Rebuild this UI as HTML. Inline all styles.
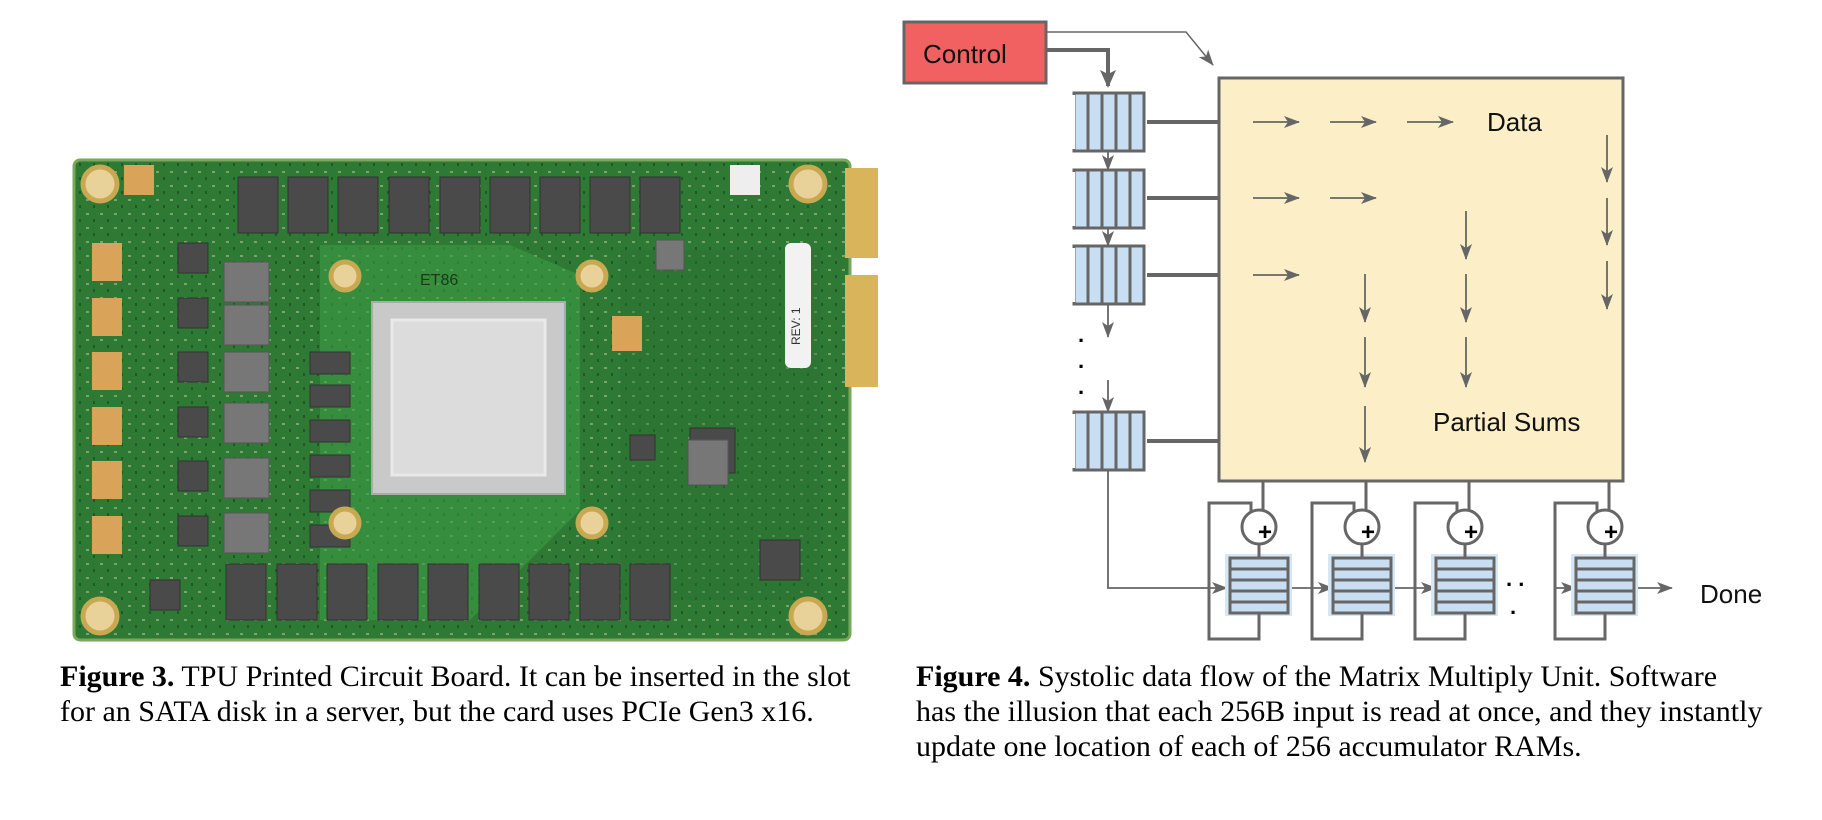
<!DOCTYPE html>
<html><head><meta charset="utf-8"><style>
body{margin:0;width:1822px;height:820px;background:#fff;overflow:hidden;position:relative}
.cap{position:absolute;font-family:"Liberation Serif",serif;font-size:30px;line-height:35px;color:#000;white-space:nowrap}
</style></head><body>
<svg width="1822" height="820" style="position:absolute;left:0;top:0" font-family="Liberation Sans, sans-serif">
<defs>
<marker id="a" markerWidth="16" markerHeight="12" refX="15" refY="6" orient="auto" markerUnits="userSpaceOnUse"><path d="M0,0 L16,6 L0,12 L4,6 z" fill="#666"/></marker>
<marker id="b" markerWidth="18" markerHeight="16" refX="16" refY="8" orient="auto" markerUnits="userSpaceOnUse"><path d="M0,0 L18,8 L0,16 L4,8 z" fill="#666"/></marker>
<pattern id="pcb" width="14" height="14" patternUnits="userSpaceOnUse"><rect width="14" height="14" fill="#2e7a35"/><rect x="2" y="3" width="3" height="2" fill="#c9c9b0" opacity=".5"/><rect x="9" y="9" width="2" height="3" fill="#1d5a26"/></pattern>
</defs>
<!-- PCB -->
<rect x="74" y="160" width="776" height="480" rx="6" fill="url(#pcb)" stroke="#7aa85a" stroke-width="3"/>
<rect x="845" y="168" width="33" height="90" fill="#d8b55a"/>
<rect x="845" y="275" width="33" height="112" fill="#d8b55a"/>
<path d="M620 250 L820 250 L820 600 L620 600Z" fill="#2a6f30" opacity=".4"/>
<path d="M320 245 L510 245 L580 275 L580 510 L470 620 L320 620Z" fill="#3a9a42" opacity=".6"/>
<g fill="#4a4a4a" stroke="#333">
<rect x="238" y="177" width="40" height="56"/><rect x="288" y="177" width="40" height="56"/><rect x="338" y="177" width="40" height="56"/><rect x="389" y="177" width="40" height="56"/><rect x="440" y="177" width="40" height="56"/><rect x="490" y="177" width="40" height="56"/><rect x="540" y="177" width="40" height="56"/><rect x="590" y="177" width="40" height="56"/><rect x="640" y="177" width="40" height="56"/>
<rect x="226" y="564" width="40" height="56"/><rect x="277" y="564" width="40" height="56"/><rect x="327" y="564" width="40" height="56"/><rect x="378" y="564" width="40" height="56"/><rect x="428" y="564" width="40" height="56"/><rect x="479" y="564" width="40" height="56"/><rect x="529" y="564" width="40" height="56"/><rect x="580" y="564" width="40" height="56"/><rect x="630" y="564" width="40" height="56"/>
<rect x="178" y="243" width="30" height="30"/><rect x="178" y="298" width="30" height="30"/><rect x="178" y="352" width="30" height="30"/><rect x="178" y="407" width="30" height="30"/><rect x="178" y="461" width="30" height="30"/><rect x="178" y="516" width="30" height="30"/>
<rect x="310" y="352" width="40" height="22"/><rect x="310" y="385" width="40" height="22"/><rect x="310" y="420" width="40" height="22"/><rect x="310" y="455" width="40" height="22"/><rect x="310" y="490" width="40" height="22"/><rect x="310" y="525" width="40" height="22"/>
<rect x="690" y="428" width="45" height="45"/><rect x="760" y="540" width="40" height="40"/><rect x="630" y="435" width="25" height="25"/><rect x="150" y="580" width="30" height="30"/>
</g>
<g fill="#777" stroke="#555">
<rect x="224" y="262" width="45" height="40"/><rect x="224" y="305" width="45" height="40"/><rect x="224" y="352" width="45" height="40"/><rect x="224" y="403" width="45" height="40"/><rect x="224" y="458" width="45" height="40"/><rect x="224" y="513" width="45" height="40"/><rect x="688" y="440" width="40" height="45"/><rect x="656" y="240" width="28" height="30"/>
</g>
<g fill="#d9a45a"><rect x="124" y="165" width="30" height="30"/><rect x="92" y="243" width="30" height="38"/><rect x="92" y="298" width="30" height="38"/><rect x="92" y="352" width="30" height="38"/><rect x="92" y="407" width="30" height="38"/><rect x="92" y="461" width="30" height="38"/><rect x="92" y="516" width="30" height="38"/><rect x="612" y="316" width="30" height="35"/></g>
<g fill="#e8d29a" stroke="#c8a850" stroke-width="5"><circle cx="100" cy="184" r="17"/><circle cx="808" cy="184" r="17"/><circle cx="100" cy="616" r="17"/><circle cx="808" cy="616" r="17"/><circle cx="345" cy="276" r="14"/><circle cx="592" cy="276" r="14"/><circle cx="345" cy="523" r="14"/><circle cx="592" cy="523" r="14"/></g>
<rect x="372" y="302" width="193" height="192" fill="#c9c9c9" stroke="#aaa" stroke-width="2"/>
<rect x="392" y="320" width="153" height="155" fill="#dcdcdc" stroke="#e9e9e9" stroke-width="3"/>
<rect x="785" y="243" width="26" height="125" rx="6" fill="#f2f2f2"/>
<text x="800" y="345" font-size="12" fill="#333" transform="rotate(-90 800 345)">REV: 1</text>
<text x="420" y="285" font-size="16" fill="#1a3a1a">ET86</text>
<rect x="730" y="165" width="30" height="30" fill="#eee"/>
<!-- Figure 4 -->
<rect x="904" y="22" width="142" height="61" fill="#f26161" stroke="#666" stroke-width="3"/>
<text x="923" y="63" font-size="26" fill="#111">Control</text>
<polyline points="1046,50 1108,50 1108,86" fill="none" stroke="#666" stroke-width="4" marker-end="url(#b)"/>
<polyline points="1046,32 1186,32 1213,65" fill="none" stroke="#666" stroke-width="1.5" marker-end="url(#a)"/>
<rect x="1219" y="78" width="404" height="403" fill="#fcefc8" stroke="#666" stroke-width="3"/>
<g fill="#c8def2" stroke="#666" stroke-width="3">
<g id="q"><rect x="1074" y="93" width="70" height="58"/><path d="M1088 93V151M1102 93V151M1116 93V151M1130 93V151" /></g>
<use href="#q" y="77"/><use href="#q" y="153"/><use href="#q" y="319"/>
</g>
<g fill="#fff"><rect x="1069" y="95" width="6" height="54"/><rect x="1069" y="172" width="6" height="54"/><rect x="1069" y="248" width="6" height="54"/><rect x="1069" y="414" width="6" height="54"/></g>
<g stroke="#666" stroke-width="4"><line x1="1147" y1="122" x2="1219" y2="122"/><line x1="1147" y1="198" x2="1219" y2="198"/><line x1="1147" y1="275" x2="1219" y2="275"/><line x1="1147" y1="441" x2="1219" y2="441"/></g>
<g stroke="#666" stroke-width="1.8" fill="none" marker-end="url(#a)">
<line x1="1108" y1="151" x2="1108" y2="170"/><line x1="1108" y1="228" x2="1108" y2="246"/><line x1="1108" y1="304" x2="1108" y2="337"/><line x1="1108" y1="380" x2="1108" y2="412"/>
<polyline points="1108,471 1108,588 1227,588"/>
<line x1="1253" y1="122" x2="1299" y2="122"/><line x1="1330" y1="122" x2="1376" y2="122"/><line x1="1407" y1="122" x2="1453" y2="122"/>
<line x1="1253" y1="198" x2="1299" y2="198"/><line x1="1330" y1="198" x2="1376" y2="198"/>
<line x1="1253" y1="275" x2="1299" y2="275"/>
<line x1="1607" y1="135" x2="1607" y2="182"/><line x1="1607" y1="198" x2="1607" y2="245"/><line x1="1607" y1="261" x2="1607" y2="309"/>
<line x1="1466" y1="211" x2="1466" y2="259"/><line x1="1466" y1="274" x2="1466" y2="322"/><line x1="1466" y1="337" x2="1466" y2="387"/>
<line x1="1365" y1="274" x2="1365" y2="322"/><line x1="1365" y1="337" x2="1365" y2="387"/><line x1="1365" y1="406" x2="1365" y2="462"/>
<line x1="1288" y1="588" x2="1333" y2="588"/><line x1="1391" y1="588" x2="1436" y2="588"/><line x1="1554" y1="588" x2="1576" y2="588"/><line x1="1634" y1="588" x2="1672" y2="588"/>
</g>
<text x="1487" y="131" font-size="26" fill="#111">Data</text>
<text x="1433" y="431" font-size="26" fill="#111">Partial Sums</text>
<text x="1700" y="603" font-size="26" fill="#111">Done</text>
<g font-size="22" fill="#000" font-weight="bold"><text x="1078" y="342">.</text><text x="1078" y="368">.</text><text x="1078" y="394">.</text><text x="1506" y="586">. .</text><text x="1510" y="614">.</text></g>
<g id="acc">
<rect x="1225" y="554" width="67" height="62" fill="#d5e6f5"/>
<g stroke="#666" stroke-width="3" fill="none">
<line x1="1263" y1="480" x2="1263" y2="510"/>
<polyline points="1259,558 1259,544"/>
<polyline points="1259,613 1259,639 1209,639 1209,503 1251,503 1251,512"/>
<rect x="1230" y="558" width="58" height="55" fill="#c8def2"/>
<path d="M1230 569H1288M1230 580H1288M1230 591H1288M1230 602H1288"/>
<circle cx="1259" cy="527" r="17" fill="#fff"/>
</g>
<text x="1258" y="540" font-size="24" font-weight="bold" fill="#000">+</text>
</g>
<use href="#acc" x="103"/><use href="#acc" x="206"/><use href="#acc" x="346"/>
</svg>
<div class="cap" style="left:60px;top:659px"><b>Figure 3.</b> TPU Printed Circuit Board. It can be inserted in the slot<br>for an SATA disk in a server, but the card uses PCIe Gen3 x16.</div>
<div class="cap" style="left:916px;top:659px"><b>Figure 4.</b> Systolic data flow of the Matrix Multiply Unit. Software<br>has the illusion that each 256B input is read at once, and they instantly<br>update one location of each of 256 accumulator RAMs.</div>
</body></html>
